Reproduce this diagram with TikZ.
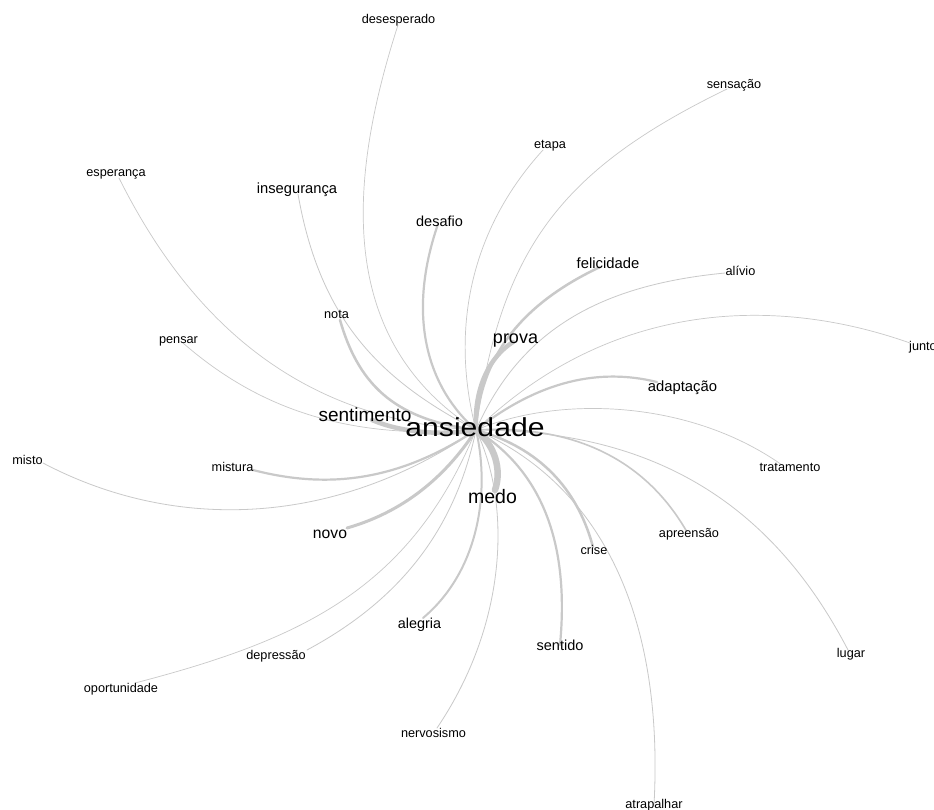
\documentclass[tikz,border=0pt]{standalone}
\usepackage{fontspec}
\setmainfont{Liberation Sans}
\definecolor{edgegray}{HTML}{C9C9C9}
\tikzset{
  wedge/.style={draw=edgegray, line cap=round, line width=#1},
  wedge/.default=0.7pt,
  word/.style={anchor=base, inner sep=0pt, text=black, font=\fontsize{#1}{#1}\selectfont},
}
\begin{document}
\begin{tikzpicture}[x=1pt,y=-1pt]
\useasboundingbox (0,0) rectangle (934,809);
\clip (0,0) rectangle (934,809);
\fill[white] (0,0) rectangle (934,809);
% hub and edge end points
\coordinate (h) at (476,430);
\coordinate (e-desesperado) at (398,25);
\coordinate (e-sensacao) at (727,89);
\coordinate (e-etapa) at (543,150);
\coordinate (e-esperanca) at (119,178);
\coordinate (e-inseguranca) at (298,194);
\coordinate (e-desafio) at (438,224);
\coordinate (e-felicidade) at (600,267);
\coordinate (e-alivio) at (725,273);
\coordinate (e-nota) at (340,320);
\coordinate (e-pensar) at (183,343);
\coordinate (e-prova) at (513,342);
\coordinate (e-junto) at (910,343);
\coordinate (e-adaptacao) at (657,382);
\coordinate (e-tratamento) at (782,465);
\coordinate (e-sentimento) at (372,420);
\coordinate (e-misto) at (43,463);
\coordinate (e-mistura) at (253,470);
\coordinate (e-novo) at (347,528);
\coordinate (e-medo) at (495,490);
\coordinate (e-alegria) at (423,618);
\coordinate (e-depressao) at (307,650);
\coordinate (e-oportunidade) at (135,683);
\coordinate (e-nervosismo) at (437,728);
\coordinate (e-sentido) at (560,645);
\coordinate (e-crise) at (593,547);
\coordinate (e-atrapalhar) at (654,805);
\coordinate (e-apreensao) at (687,532);
\coordinate (e-lugar) at (848,650);
% edges
\draw[wedge=0.7pt] (e-desesperado) .. controls (348,180) and (335,340) .. (h);
\draw[wedge=0.7pt] (e-sensacao) .. controls (560,170) and (500,250) .. (h);
\draw[wedge=0.7pt] (e-etapa) .. controls (470,230) and (450,330) .. (h);
\draw[wedge=0.7pt] (e-esperanca) .. controls (185,310) and (290,420) .. (h);
\draw[wedge=0.8pt] (e-inseguranca) .. controls (320,320) and (380,380) .. (h);
\draw[wedge=2.2pt] (e-desafio) .. controls (405,320) and (430,390) .. (h);
\draw[wedge=2.5pt] (e-felicidade) .. controls (530,300) and (480,350) .. (h);
\draw[wedge=0.8pt] (e-alivio) .. controls (600,285) and (520,330) .. (h);
\draw[wedge=2.5pt] (e-nota) .. controls (360,390) and (400,420) .. (h);
\draw[wedge=0.7pt] (e-pensar) .. controls (260,410) and (350,440) .. (h);
\draw[wedge=4.5pt] (e-prova) .. controls (485,360) and (474,395) .. (h);
\draw[wedge=0.7pt] (e-junto) .. controls (760,290) and (600,310) .. (h);
\draw[wedge=2.2pt] (e-adaptacao) .. controls (600,368) and (540,380) .. (h);
\draw[wedge=0.7pt] (e-tratamento) .. controls (690,400) and (560,395) .. (h);
\draw[wedge=4.5pt] (e-sentimento) .. controls (400,432) and (440,436) .. (h);
\draw[wedge=0.8pt] (e-misto) .. controls (170,530) and (330,530) .. (h);
\draw[wedge=2.2pt] (e-mistura) .. controls (330,490) and (400,480) .. (h);
\draw[wedge=3pt] (e-novo) .. controls (410,510) and (450,470) .. (h);
\draw[wedge=6.5pt] (e-medo) .. controls (502,470) and (495,445) .. (h);
\draw[wedge=2pt] (e-alegria) .. controls (480,570) and (490,490) .. (h);
\draw[wedge=0.8pt] (e-depressao) .. controls (400,600) and (455,530) .. (h);
\draw[wedge=0.7pt] (e-oportunidade) .. controls (300,640) and (410,590) .. (h);
\draw[wedge=0.8pt] (e-nervosismo) .. controls (510,620) and (510,500) .. (h);
\draw[wedge=2.2pt] (e-sentido) .. controls (570,540) and (540,470) .. (h);
\draw[wedge=2.5pt] (e-crise) .. controls (575,480) and (530,445) .. (h);
\draw[wedge=0.8pt] (e-atrapalhar) .. controls (665,600) and (590,480) .. (h);
\draw[wedge=1.6pt] (e-apreensao) .. controls (640,450) and (560,425) .. (h);
\draw[wedge=0.8pt] (e-lugar) .. controls (770,500) and (650,430) .. (h);
% words
\node[word=12.7] (desesperado) at (398.5,23) {desesperado};
\node[word=12.7] (sensacao) at (734,88) {sensação};
\node[word=12.7] (etapa) at (550,148) {etapa};
\node[word=12.7] (esperanca) at (116,176.7) {esperança};
\node[word=14.7] (inseguranca) at (297,193) {insegurança};
\node[word=14.5] (desafio) at (439.5,226) {desafio};
\node[word=14.8] (felicidade) at (608,268) {felicidade};
\node[word=12.7] (alivio) at (740.5,275) {alívio};
\node[word=12.7] (nota) at (336.5,318) {nota};
\node[word=12.7] (pensar) at (178.5,343) {pensar};
\node[word=18] (prova) at (515.5,343) {prova};
\node[word=12.7] (junto) at (923,350) {junto};
\node[word=14.8] (adaptacao) at (682.5,391.7) {adaptação};
\node[word=19] (sentimento) at (365,421.7) {sentimento};
\node[anchor=base, inner sep=0pt] (ansiedade) at (475,436.7) {\scalebox{1.16}[1]{\fontsize{26}{26}\selectfont ansiedade}};
\node[word=12.7] (misto) at (27.5,464) {misto};
\node[word=12.7] (tratamento) at (790,471.7) {tratamento};
\node[word=12.7] (mistura) at (232.5,471.7) {mistura};
\node[word=19.5] (medo) at (492.5,503) {medo};
\node[word=15.7] (novo) at (330,538) {novo};
\node[word=12.7] (apreensao) at (689,537) {apreensão};
\node[word=12.7] (crise) at (594,554) {crise};
\node[word=14.4] (alegria) at (419.5,628) {alegria};
\node[word=14.5] (sentido) at (560,650.7) {sentido};
\node[word=12.7] (lugar) at (851,657) {lugar};
\node[word=12.7] (depressao) at (276,659) {depressão};
\node[word=12.7] (oportunidade) at (121,692.7) {oportunidade};
\node[word=12.7] (nervosismo) at (433.5,737) {nervosismo};
\node[word=12.7] (atrapalhar) at (654,808) {atrapalhar};
\end{tikzpicture}
\end{document}
